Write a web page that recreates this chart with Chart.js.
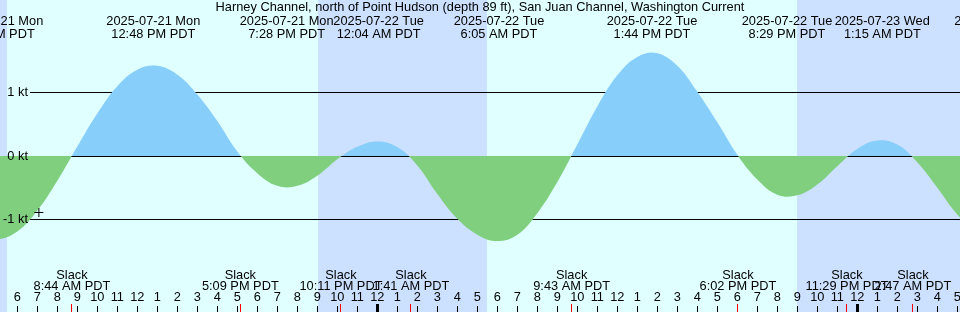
<!DOCTYPE html>
<html>
<head>
<meta charset="utf-8">
<script src="https://cdn.jsdelivr.net/npm/chart.js@4/dist/chart.umd.min.js"></script>
<style>
  html, body { margin: 0; padding: 0; background: #e0ffff; }
  canvas { display: block; }
</style>
</head>
<body>
<canvas id="c" width="960" height="312"></canvas>
<script>
// Time axis: hours since 2025-07-21 00:00 PDT
const viewStart = 5.135;
const viewEnd = 53.135;

// Current curve (knots), read hour by hour from the picture (hours 3 .. 56)
const sampleHours = [3, 4, 5, 6, 7, 8, 9, 10, 11, 12, 13, 14, 15, 16, 17, 18, 19, 20, 21, 22,
  23, 24, 25, 26, 27, 28, 29, 30, 31, 32, 33, 34, 35, 36, 37, 38, 39, 40, 41, 42,
  43, 44, 45, 46, 47, 48, 49, 50, 51, 52, 53, 54, 55, 56];
const currentKt = [-0.95, -1.22, -1.31, -1.19, -0.86, -0.39, 0.15, 0.67, 1.10, 1.36, 1.42, 1.28, 0.97, 0.55, 0.07, -0.27, -0.47, -0.47, -0.31, -0.05,
  0.145, 0.23, 0.14, -0.15, -0.60, -0.99, -1.24, -1.34, -1.24, -0.90, -0.41, 0.18, 0.78, 1.27, 1.56, 1.62, 1.42, 1.01, 0.53, 0.02,
  -0.37, -0.61, -0.62, -0.45, -0.16, 0.11, 0.244, 0.18, -0.10, -0.50, -0.92, -1.20, -1.32, -1.28];

// Max flood / ebb events (top labels)
const peakHours = [4.95, 12.8, 19.467, 24.067, 30.083, 37.733, 44.483, 49.25, 55.22];
const peakDates = ['2025-07-21 Mon', '2025-07-21 Mon', '2025-07-21 Mon', '2025-07-22 Tue', '2025-07-22 Tue',
  '2025-07-22 Tue', '2025-07-22 Tue', '2025-07-23 Wed', '2025-07-23 Wed'];
const peakClock = ['4:57 AM PDT', '12:48 PM PDT', '7:28 PM PDT', '12:04 AM PDT', '6:05 AM PDT',
  '1:44 PM PDT', '8:29 PM PDT', '1:15 AM PDT', '7:13 AM PDT'];

// Slack events (bottom labels)
const slackHours = [8.733, 17.15, 22.183, 25.683, 33.717, 42.033, 47.483, 50.783];
const slackClock = ['8:44 AM PDT', '5:09 PM PDT', '10:11 PM PDT', '1:41 AM PDT', '9:43 AM PDT',
  '6:02 PM PDT', '11:29 PM PDT', '2:47 AM PDT'];

// Night periods [sunset, sunrise]
const nightStart = [0, 21.02, 44.98];
const nightEnd = [5.5, 29.5, 53.5];

// Y axis levels
const levelValues = [1, 0, -1];
const levelLabels = ['1 kt', '0 kt', '-1 kt'];

// Hour ticks (6 AM Jul 21 .. 5 AM Jul 23)
const hourTicks = [];
for (let h = 6; h <= 53; h++) hourTicks.push(h);

// "now" marker
const nowHour = [7.08];
const nowKt = [-0.89];

const title = 'Harney Channel, north of Point Hudson (depth 89 ft), San Juan Channel, Washington Current';

const FONT = '12.8px "Liberation Sans", Arial, sans-serif';

const decor = {
  id: 'decor',
  beforeDraw(chart) {
    const ctx = chart.ctx;
    const xs = chart.scales.x;
    ctx.save();
    ctx.fillStyle = '#e0ffff';
    ctx.fillRect(0, 0, 960, 312);
    ctx.fillStyle = '#cce0ff';
    for (let i = 0; i < nightStart.length; i++) {
      const a = Math.round(xs.getPixelForValue(nightStart[i]));
      const b = Math.round(xs.getPixelForValue(nightEnd[i]));
      ctx.fillRect(a, 0, b - a, 312);
    }
    ctx.restore();
  },
  beforeDatasetsDraw(chart) {
    const ctx = chart.ctx;
    const ys = chart.scales.y;
    ctx.save();
    ctx.fillStyle = '#000';
    levelValues.forEach(v => {
      const y = Math.floor(ys.getPixelForValue(v));
      ctx.fillRect(30, y, 930, 1);
    });
    ctx.restore();
  },
  afterDatasetsDraw(chart) {
    const ctx = chart.ctx;
    const xs = chart.scales.x;
    const ys = chart.scales.y;
    ctx.save();
    ctx.font = FONT;
    ctx.fillStyle = '#000';
    // y labels
    ctx.textAlign = 'right';
    ctx.textBaseline = 'middle';
    levelValues.forEach((v, i) => {
      const y = Math.floor(ys.getPixelForValue(v)) + 0.5;
      ctx.fillText(levelLabels[i], 28, y);
    });
    // title
    ctx.textAlign = 'center';
    ctx.textBaseline = 'alphabetic';
    ctx.fillText(title, 480, 11);
    // peak labels
    peakHours.forEach((h, i) => {
      const x = xs.getPixelForValue(h);
      ctx.fillText(peakDates[i], x, 24.5);
      ctx.fillText(peakClock[i], x, 37.5);
    });
    // slack labels
    slackHours.forEach((h, i) => {
      const x = xs.getPixelForValue(h);
      ctx.fillText('Slack', x, 278.5);
      ctx.fillText(slackClock[i], x, 290);
    });
    // hour ticks + numbers
    hourTicks.forEach(h => {
      const x = xs.getPixelForValue(h);
      const lab = String(h % 12 === 0 ? 12 : h % 12);
      ctx.fillStyle = '#000';
      ctx.fillText(lab, x, 301);
      if (h % 24 === 0) {
        ctx.fillRect(Math.floor(x) - 1, 304, 3, 8);
      } else {
        ctx.fillRect(Math.floor(x), 306, 1, 6);
      }
    });
    ctx.fillStyle = '#ff0000';
    slackHours.forEach(h => {
      const x = xs.getPixelForValue(h);
      ctx.fillRect(Math.floor(x), 304, 1, 8);
    });
    ctx.restore();
  }
};

new Chart(document.getElementById('c'), {
  type: 'line',
  data: {
    datasets: [
      {
        data: sampleHours.map((h, i) => ({ x: h, y: currentKt[i] })),
        borderWidth: 0,
        borderColor: 'rgba(0,0,0,0)',
        pointRadius: 0,
        tension: 0.4,
        fill: { target: 'origin', above: '#87cefa', below: '#7fcf7f' },
        order: 2
      },
      {
        type: 'scatter',
        data: nowHour.map((h, i) => ({ x: h, y: nowKt[i] })),
        pointStyle: 'cross',
        pointRadius: 4.5,
        borderColor: '#000',
        borderWidth: 1,
        backgroundColor: '#000',
        order: 1
      }
    ]
  },
  options: {
    responsive: false,
    devicePixelRatio: 1,
    animation: false,
    layout: { padding: 0, autoPadding: false },
    plugins: { legend: { display: false }, tooltip: { enabled: false }, title: { display: false } },
    events: [],
    scales: {
      x: { type: 'linear', display: false, min: viewStart, max: viewEnd },
      y: { display: false, min: -156 / 63.5, max: 156 / 63.5 }
    }
  },
  plugins: [decor]
});
</script>
</body>
</html>
